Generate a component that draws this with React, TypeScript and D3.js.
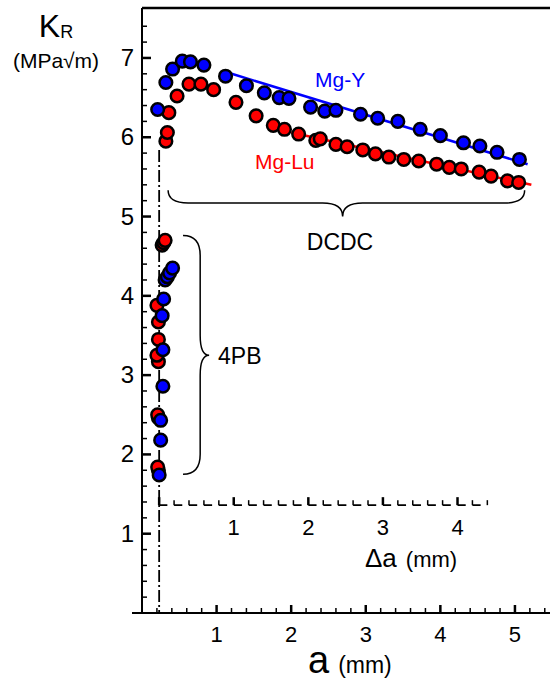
import React, { useEffect, useRef } from 'react';
import * as d3 from 'd3';

// DCDC data (crack length a in mm, K_R in MPa sqrt(m))
const mgYDcdcA = [0.21, 0.32, 0.41, 0.54, 0.65, 0.83, 1.12, 1.4, 1.64, 1.84, 1.97, 2.26, 2.45, 2.6, 2.93, 3.16, 3.43, 3.73, 4.0, 4.31, 4.53, 4.76, 5.06];
const mgYDcdcK = [6.35, 6.69, 6.86, 6.96, 6.95, 6.91, 6.77, 6.65, 6.56, 6.5, 6.49, 6.38, 6.33, 6.34, 6.29, 6.24, 6.2, 6.1, 6.02, 5.93, 5.89, 5.81, 5.72];
const mgLuDcdcA = [0.32, 0.34, 0.36, 0.47, 0.63, 0.79, 0.96, 1.26, 1.53, 1.76, 1.91, 2.1, 2.33, 2.39, 2.6, 2.75, 2.96, 3.13, 3.31, 3.51, 3.71, 3.95, 4.12, 4.28, 4.52, 4.68, 4.9, 5.05];
const mgLuDcdcK = [5.95, 6.06, 6.31, 6.52, 6.67, 6.67, 6.6, 6.44, 6.27, 6.15, 6.1, 6.04, 5.96, 5.98, 5.91, 5.88, 5.84, 5.79, 5.75, 5.72, 5.7, 5.66, 5.62, 5.6, 5.56, 5.51, 5.45, 5.43];

// 4PB data (drawn bottom-up so the last point of each cluster sits on top)
const mgLu4pbA = [0.22, 0.21, 0.22, 0.21, 0.22, 0.2, 0.22, 0.22, 0.2, 0.27, 0.29, 0.31];
const mgLu4pbK = [1.8, 1.84, 2.46, 2.5, 3.17, 3.25, 3.45, 3.67, 3.88, 4.64, 4.67, 4.7];
const mgY4pbA = [0.23, 0.25, 0.25, 0.28, 0.28, 0.27, 0.29, 0.31, 0.34, 0.37, 0.41];
const mgY4pbK = [1.74, 2.18, 2.43, 2.86, 3.32, 3.75, 3.96, 4.2, 4.24, 4.29, 4.35];

// fitted lines
const mgYFitA = [1.17, 5.17];
const mgYFitK = [6.81, 5.66];
const mgLuFitA = [2.0, 5.22];
const mgLuFitK = [6.06, 5.4];

const xTicks = [1, 2, 3, 4, 5];
const yTicks = [1, 2, 3, 4, 5, 6, 7];
const deltaTicks = [1, 2, 3, 4];
const notchA = 0.23; // initial crack length, origin of the delta-a axis
const deltaMax = 4.4;

const FONT = '"Liberation Sans", Arial, Helvetica, sans-serif';
const BLUE = '#0000ff';
const RED = '#ff0000';

const App: React.FC = () => {
  const svgRef = useRef<SVGSVGElement | null>(null);

  useEffect(() => {
    if (!svgRef.current) return;
    const svg = d3.select(svgRef.current);
    svg.selectAll('*').remove();

    const x = d3.scaleLinear().domain([0, 5.47]).range([142, 550]);
    const y = d3.scaleLinear().domain([0, 7.63]).range([613, 8]);
    const isMajor = (d: number) => Math.abs(d - Math.round(d)) < 0.01;

    // frame: left axis, bottom axis, top border
    svg.append('line').attr('x1', x(0)).attr('x2', x(0)).attr('y1', y(7.63)).attr('y2', y(0) + 1)
      .attr('stroke', '#000').attr('stroke-width', 2);
    svg.append('line').attr('x1', x(0) - 10).attr('x2', 550).attr('y1', y(0)).attr('y2', y(0))
      .attr('stroke', '#000').attr('stroke-width', 2);
    svg.append('line').attr('x1', x(0)).attr('x2', 550).attr('y1', y(7.63)).attr('y2', y(7.63))
      .attr('stroke', '#000').attr('stroke-width', 2.5);

    // y ticks (inside)
    const yMinor = d3.range(0.2, 7.5, 0.2);
    svg.append('g').selectAll('line').data(yMinor).join('line')
      .attr('x1', x(0)).attr('x2', (d) => x(0) + (isMajor(d) ? 9 : 5))
      .attr('y1', (d) => y(d)).attr('y2', (d) => y(d))
      .attr('stroke', '#000').attr('stroke-width', (d) => (isMajor(d) ? 2.5 : 1.5));
    svg.append('g').selectAll('text').data(yTicks).join('text')
      .attr('x', 134).attr('y', (d) => y(d) + 8).attr('text-anchor', 'end')
      .attr('font-family', FONT).attr('font-size', 24).text((d) => d);

    // x ticks (inside)
    const xMinor = d3.range(0.2, 5.45, 0.2);
    svg.append('g').selectAll('line').data(xMinor).join('line')
      .attr('x1', (d) => x(d)).attr('x2', (d) => x(d))
      .attr('y1', y(0)).attr('y2', (d) => y(0) - (isMajor(d) ? 8 : 5))
      .attr('stroke', '#000').attr('stroke-width', (d) => (isMajor(d) ? 2.5 : 1.5));
    svg.append('g').selectAll('text').data(xTicks).join('text')
      .attr('x', (d) => x(d)).attr('y', 642).attr('text-anchor', 'middle')
      .attr('font-family', FONT).attr('font-size', 22).text((d) => d);

    // delta-a axis
    const dx = (d: number) => x(d + notchA);
    const yDelta = y(1.36);
    const step = dx(0.2) - dx(0);
    svg.append('line').attr('x1', dx(0)).attr('x2', dx(deltaMax)).attr('y1', yDelta).attr('y2', yDelta)
      .attr('stroke', '#000').attr('stroke-width', 1.8)
      .attr('stroke-dasharray', `${step * 0.55},${step * 0.45}`);
    const dMinor = d3.range(0, deltaMax + 0.01, 0.2);
    svg.append('g').selectAll('line').data(dMinor).join('line')
      .attr('x1', (d) => dx(d)).attr('x2', (d) => dx(d))
      .attr('y1', yDelta).attr('y2', (d) => yDelta - (isMajor(d) ? 8 : 5))
      .attr('stroke', '#000').attr('stroke-width', (d) => (isMajor(d) ? 2.5 : 1.5));
    svg.append('g').selectAll('text').data(deltaTicks).join('text')
      .attr('x', (d) => dx(d)).attr('y', 535).attr('text-anchor', 'middle')
      .attr('font-family', FONT).attr('font-size', 22).text((d) => d);

    // dash-dot line at the notch
    svg.append('line').attr('x1', x(notchA)).attr('x2', x(notchA)).attr('y1', y(5.84)).attr('y2', y(0))
      .attr('stroke', '#000').attr('stroke-width', 1.8).attr('stroke-dasharray', '12,3,2,3');

    // fit lines
    const line = d3.line<[number, number]>().x((d) => x(d[0])).y((d) => y(d[1]));
    svg.append('path').attr('d', line(mgYFitA.map((a, i) => [a, mgYFitK[i]])))
      .attr('fill', 'none').attr('stroke', BLUE).attr('stroke-width', 2.5);
    svg.append('path').attr('d', line(mgLuFitA.map((a, i) => [a, mgLuFitK[i]])))
      .attr('fill', 'none').attr('stroke', RED).attr('stroke-width', 2.5);

    // markers
    const dots = (as: number[], ks: number[], color: string) => {
      svg.append('g').selectAll('circle').data(as.map((a, i) => [a, ks[i]])).join('circle')
        .attr('cx', (d) => x(d[0])).attr('cy', (d) => y(d[1])).attr('r', 6.3)
        .attr('fill', color).attr('stroke', '#000').attr('stroke-width', 2.5);
    };
    dots(mgLu4pbA, mgLu4pbK, RED);
    dots(mgY4pbA, mgY4pbK, BLUE);
    dots(mgLuDcdcA, mgLuDcdcK, RED);
    dots(mgYDcdcA, mgYDcdcK, BLUE);

    // braces
    const hx1 = x(0.35), hx2 = x(5.13), hxm = x(2.69);
    const hyEnd = y(5.33), hyLine = y(5.17), hyTip = y(5.0);
    const r = 20;
    svg.append('path')
      .attr('d', `M${hx1},${hyEnd} Q${hx1},${hyLine} ${hx1 + r},${hyLine} L${hxm - r},${hyLine} Q${hxm},${hyLine} ${hxm},${hyTip} Q${hxm},${hyLine} ${hxm + r},${hyLine} L${hx2 - r},${hyLine} Q${hx2},${hyLine} ${hx2},${hyEnd}`)
      .attr('fill', 'none').attr('stroke', '#000').attr('stroke-width', 1.5);
    const vy1 = y(4.76), vy2 = y(1.75), vym = y(3.25);
    const vxEnd = x(0.55), vxLine = x(0.78), vxTip = x(0.9);
    svg.append('path')
      .attr('d', `M${vxEnd},${vy1} Q${vxLine},${vy1} ${vxLine},${vy1 + r} L${vxLine},${vym - r} Q${vxLine},${vym} ${vxTip},${vym} Q${vxLine},${vym} ${vxLine},${vym + r} L${vxLine},${vy2 - r} Q${vxLine},${vy2} ${vxEnd},${vy2}`)
      .attr('fill', 'none').attr('stroke', '#000').attr('stroke-width', 1.5);

    // annotations
    const label = (tx: number, ty: number, txt: string, size: number, color = '#000', anchor = 'start') =>
      svg.append('text').attr('x', tx).attr('y', ty).attr('font-family', FONT).attr('font-size', size)
        .attr('fill', color).attr('text-anchor', anchor).text(txt);
    label(315, 87, 'Mg-Y', 21, BLUE);
    label(255, 169, 'Mg-Lu', 21, RED);
    label(340, 250, 'DCDC', 23, '#000', 'middle');
    label(218, 364, '4PB', 23);

    // axis titles
    const kr = svg.append('text').attr('x', 56).attr('y', 37).attr('text-anchor', 'middle')
      .attr('font-family', FONT).attr('font-size', 32);
    kr.append('tspan').text('K');
    kr.append('tspan').attr('font-size', 18).attr('dy', 1).text('R');
    label(56, 68, '(MPa\u221am)', 21, '#000', 'middle');

    const at = svg.append('text').attr('x', 308).attr('y', 673).attr('font-family', FONT);
    at.append('tspan').attr('font-size', 38).text('a');
    at.append('tspan').attr('font-size', 23).attr('dx', 9).text('(mm)');

    const dt = svg.append('text').attr('x', 365).attr('y', 567).attr('font-family', FONT);
    dt.append('tspan').attr('font-size', 26).text('\u0394a');
    dt.append('tspan').attr('font-size', 22).attr('dx', 9).text('(mm)');
  }, []);

  return (
    <svg
      ref={svgRef}
      width={550}
      height={682}
      style={{ position: 'absolute', left: 0, top: 0, background: '#fff' }}
    />
  );
};

export default App;
